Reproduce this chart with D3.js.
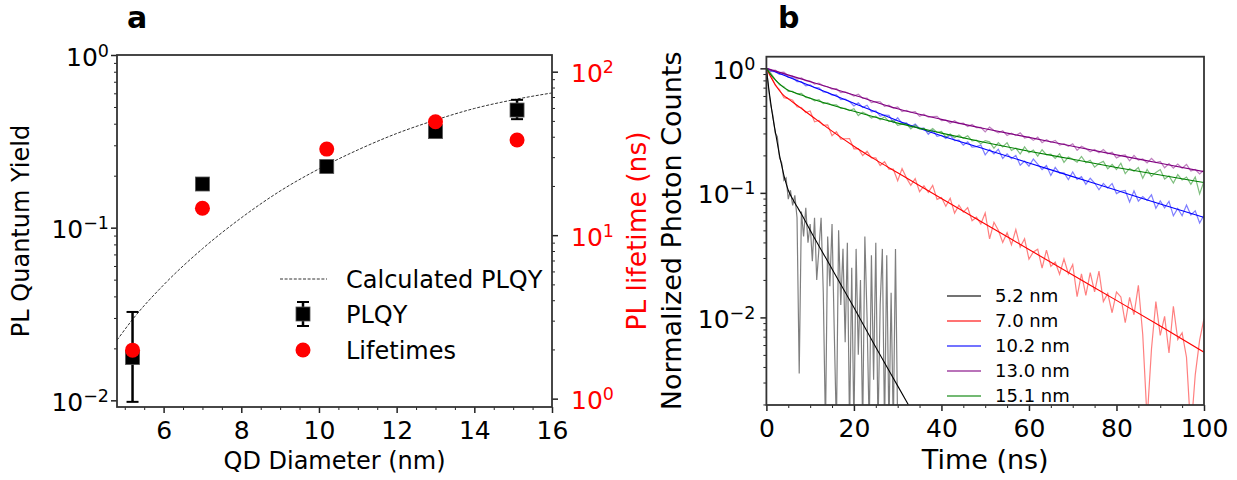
<!DOCTYPE html>
<html>
<head>
<meta charset="utf-8">
<script src="https://cdn.jsdelivr.net/npm/d3@7"></script>
<style>
body { margin: 0; background: #fff; }
</style>
</head>
<body>
<script>
// ---- panel a data ----
var diameter = [5.2, 7.0, 10.2, 13.0, 15.1];
var plqy = [0.0177, 0.179, 0.226, 0.36, 0.48];
var plqyLow = [0.0098, 0.172, 0.218, 0.35, 0.425];
var plqyHigh = [0.0325, 0.186, 0.234, 0.37, 0.55];
var lifetime = [1.98, 14.6, 33.6, 49.4, 38.2];
var calcDiameter = [4.8, 5.2, 6, 7, 8, 9, 10, 11, 12, 13, 14, 15, 16];
var calcPlqy = [0.0223, 0.0294, 0.0466, 0.0755, 0.114, 0.163, 0.219, 0.282, 0.351, 0.420, 0.490, 0.550, 0.603];

// ---- panel b data ----
var sizeLabels = ['5.2 nm', '7.0 nm', '10.2 nm', '13.0 nm', '15.1 nm'];
var sizeColors = ['#000000', '#ff0000', '#0000ff', '#800080', '#008000'];
var timeNs = d3.range(0, 101);          // 1 ns bins
var timeBlack = d3.range(0, 30.5, 0.5); // 0.5 ns bins

var countsBlack = [1.0,.676,.501,.417,.302,.282,.191,.174,.126,.132,.0891,.105,.0794,.0955,.0631,.00355,.0708,.0447,.0759,.0398,
  .0562,.0282,.0631,.0200,.0355,.0631,.0158,.00126,.0447,.0178,.0562,.00794,.00126,.0501,.0126,.0355,.00631,.0398,.00126,.0251,
  .00126,.0355,.00501,.0200,.00126,.0447,.0100,.00126,.0316,.00316,.0398,.00126,.0126,.0355,.00126,.0316,.00126,.0158,.00126,.0355,.00126];

var countsRed = [1.00,.887,.734,.676,.581,.572,.554,.491,.484,.442,
  .454,.372,.381,.349,.351,.288,.310,.270,.272,.273,
  .226,.227,.199,.216,.191,.191,.166,.178,.155,.155,
  .125,.157,.132,.115,.130,.102,.114,.101,.115,.0886,
  .0917,.0781,.0905,.0688,.0797,.0701,.0762,.0598,.0638,.0562,
  .0690,.0427,.0581,.0501,.0400,.0479,.0383,.0507,.0367,.0428,
  .0294,.0335,.0353,.0249,.0347,.0257,.0278,.0222,.0295,.0224,
  .0266,.0147,.0224,.0150,.0229,.0160,.0235,.0134,.0156,.0109,
  .0160,.0146,.00906,.0145,.0105,.0181,.00729,.0015,.00558,.0134,
  .00717,.0102,.00518,.0123,.00664,.00752,.00479,.0012,.00346,.00656,.0098];

var countsBlue = [1.00,.944,.941,.895,.907,.845,.841,.781,.781,.724,
  .737,.699,.698,.646,.641,.610,.612,.562,.567,.542,
  .499,.529,.485,.506,.448,.456,.414,.422,.419,.367,
  .401,.362,.365,.338,.357,.329,.331,.295,.318,.284,
  .290,.273,.291,.263,.265,.242,.257,.233,.235,.242,
  .202,.223,.206,.224,.189,.206,.188,.200,.167,.180,
  .164,.187,.170,.154,.166,.138,.160,.144,.145,.128,
  .147,.128,.135,.117,.131,.120,.106,.119,.109,.119,
  .0987,.103,.1045,.0845,.1039,.0859,.0933,.0870,.0964,.0752,
  .0862,.0758,.0856,.0654,.0749,.0655,.0797,.0664,.0718,.0573,.0664];

var countsPurple = [1.00,.953,.966,.923,.931,.869,.866,.819,.839,.795,
  .791,.747,.762,.724,.712,.681,.686,.639,.647,.625,
  .599,.619,.575,.577,.531,.540,.539,.496,.506,.479,
  .490,.450,.459,.444,.449,.412,.429,.405,.409,.412,
  .380,.384,.362,.379,.360,.363,.341,.355,.334,.336,
  .309,.337,.317,.303,.316,.289,.302,.288,.304,.276,
  .281,.264,.280,.253,.267,.255,.264,.242,.248,.237,
  .248,.220,.237,.227,.214,.223,.210,.223,.206,.212,
  .191,.199,.202,.181,.200,.183,.187,.174,.189,.175,
  .179,.159,.172,.158,.170,.158,.169,.150,.154,.142,.152];

var countsGreen = [1.00,.916,.813,.737,.712,.652,.653,.623,.629,.584,
  .577,.549,.560,.520,.529,.508,.509,.477,.477,.458,
  .474,.418,.445,.426,.399,.412,.386,.409,.374,.384,
  .348,.356,.358,.327,.351,.325,.329,.309,.328,.305,
  .311,.281,.297,.277,.292,.274,.287,.262,.265,.248,
  .263,.257,.228,.253,.234,.253,.219,.229,.205,.234,
  .210,.221,.197,.222,.202,.205,.189,.206,.176,.194,
  .186,.176,.196,.175,.183,.161,.172,.179,.156,.169,
  .154,.173,.143,.157,.149,.160,.131,.154,.136,.146,
  .154,.129,.137,.120,.140,.127,.134,.117,.134,.098,.124];

// fitted decays, [time, value]
var fitBlack = [[0,1],[0.5,.708],[1,.525],[1.5,.398],[2,.316],[2.5,.251],[3,.200],[3.5,.166],[4,.138],[4.5,.119],
  [5,.105],[6,.0891],[7,.0776],[8,.0676],[10,.0501],[15,.0245],[20,.0120],[25,.00575],[30,.00282],[35,.00138]];
var fitRed = [[0,1],[1,.851],[2,.741],[3,.661],[4,.603],[5,.569],[7.5,.490],[10,.422],[15,.313],[20,.237],[25,.184],
  [30,.145],[40,.0902],[50,.0563],[60,.0351],[70,.0219],[80,.0137],[90,.00853],[100,.00525]];
var fitBlue = [[0,1],[10,.724],[20,.525],[30,.380],[40,.288],[50,.224],[60,.174],[70,.135],[80,.105],[90,.0813],[100,.0635]];
var fitPurple = [[0,1],[10,.782],[20,.610],[30,.473],[40,.389],[50,.327],[60,.279],[70,.237],[80,.202],[90,.173],[100,.148]];
var fitGreen = [[0,1],[1,.891],[2,.813],[3,.750],[4,.700],[5,.668],[6,.646],[8,.610],[10,.575],[20,.452],[30,.363],
  [40,.302],[50,.254],[60,.216],[70,.186],[80,.160],[90,.139],[100,.121]];

var FONT = '"DejaVu Sans", Verdana, sans-serif';

var svg = d3.select('body')
  .append('svg')
  .attr('width', 1237)
  .attr('height', 480)
  .style('background', '#fff')
  .attr('font-family', FONT);

function powLabels(g) {
  g.selectAll('.tick text').each(function(d) {
    var e = Math.round(Math.log10(d));
    var t = d3.select(this).text('');
    t.append('tspan').text('10');
    t.append('tspan').attr('dy', -9).attr('font-size', '0.7em')
      .text(e < 0 ? '\u2212' + (-e) : String(e));
  });
}

function styleAxis(g, major) {
  g.select('.domain').remove();
  g.attr('font-family', FONT).attr('font-size', 25);
  g.selectAll('.tick line').attr('stroke', '#222').attr('stroke-width', major ? 1.5 : 1);
  g.selectAll('.tick text').attr('fill', '#000');
}

function minorLog(decades, lo, hi) {
  var out = [];
  decades.forEach(function(p) {
    for (var k = 2; k <= 9; k++) {
      var v = k * p;
      if (v >= lo && v <= hi) out.push(v);
    }
  });
  return out;
}

// ================= panel a =================
var A = {l: 117, r: 552, t: 55, b: 407};
var xA = d3.scaleLinear().domain([4.8, 16]).range([A.l, A.r]);
var yA = d3.scaleLog().domain([0.00915, 1]).range([A.b, A.t]);
var yA2 = d3.scaleLog().domain([0.889, 126.5]).range([A.b, A.t]);

var ga = svg.append('g');

// calculated curve
ga.append('path')
  .datum(calcDiameter.map(function(d, i) { return [d, calcPlqy[i]]; }))
  .attr('fill', 'none')
  .attr('stroke', '#333')
  .attr('stroke-width', 1)
  .attr('stroke-dasharray', '3,1.6')
  .attr('d', d3.line()
    .x(function(d) { return xA(d[0]); })
    .y(function(d) { return yA(d[1]); })
    .curve(d3.curveMonotoneX));

// error bars + squares
diameter.forEach(function(d, i) {
  var x = xA(d);
  ga.append('line').attr('x1', x).attr('x2', x)
    .attr('y1', yA(plqyLow[i])).attr('y2', yA(plqyHigh[i]))
    .attr('stroke', '#000').attr('stroke-width', 2.5);
  [plqyLow[i], plqyHigh[i]].forEach(function(v) {
    ga.append('line').attr('x1', x - 6).attr('x2', x + 6)
      .attr('y1', yA(v)).attr('y2', yA(v))
      .attr('stroke', '#000').attr('stroke-width', 2);
  });
});

ga.selectAll('rect.sq')
  .data(diameter)
  .enter()
  .append('rect')
  .attr('class', 'sq')
  .attr('x', function(d) { return xA(d) - 7; })
  .attr('y', function(d, i) { return yA(plqy[i]) - 7; })
  .attr('width', 14)
  .attr('height', 14)
  .attr('fill', '#000')
  .attr('stroke', '#555')
  .attr('stroke-width', 0.8);

ga.selectAll('circle.life')
  .data(diameter)
  .enter()
  .append('circle')
  .attr('class', 'life')
  .attr('cx', function(d) { return xA(d); })
  .attr('cy', function(d, i) { return yA2(lifetime[i]); })
  .attr('r', 7.5)
  .attr('fill', '#ff0000');

// axes a
var axB = ga.append('g').attr('transform', 'translate(0,' + A.b + ')')
  .call(d3.axisBottom(xA).tickValues([6, 8, 10, 12, 14, 16]).tickSize(6).tickPadding(8));
styleAxis(axB, true);
var axBm = ga.append('g').attr('transform', 'translate(0,' + A.b + ')')
  .call(d3.axisBottom(xA).tickValues(d3.range(5, 16, 0.5).filter(function(v) { return v % 2 !== 0; }))
    .tickSize(3).tickFormat(function() { return ''; }));
styleAxis(axBm, false);

var axL = ga.append('g').attr('transform', 'translate(' + A.l + ',0)')
  .call(d3.axisLeft(yA).tickValues([0.01, 0.1, 1]).tickSize(6).tickPadding(2));
styleAxis(axL, true);
axL.selectAll('.tick text').attr('dy', '0.4em');
powLabels(axL);
var axLm = ga.append('g').attr('transform', 'translate(' + A.l + ',0)')
  .call(d3.axisLeft(yA).tickValues(minorLog([0.01, 0.1], 0.00915, 1)).tickSize(3).tickFormat(function() { return ''; }));
styleAxis(axLm, false);

var axR = ga.append('g').attr('transform', 'translate(' + A.r + ',0)')
  .call(d3.axisRight(yA2).tickValues([1, 10, 100]).tickSize(6).tickPadding(13));
styleAxis(axR, true);
axR.selectAll('.tick text').attr('fill', '#ff0000').attr('dy', '0.4em');
powLabels(axR);
var axRm = ga.append('g').attr('transform', 'translate(' + A.r + ',0)')
  .call(d3.axisRight(yA2).tickValues(minorLog([1, 10], 0.889, 126.5)).tickSize(3).tickFormat(function() { return ''; }));
styleAxis(axRm, false);

ga.append('rect')
  .attr('x', A.l).attr('y', A.t)
  .attr('width', A.r - A.l).attr('height', A.b - A.t)
  .attr('fill', 'none').attr('stroke', '#333').attr('stroke-width', 1.8);

// legend a
ga.append('line').attr('x1', 280).attr('x2', 327).attr('y1', 279).attr('y2', 279)
  .attr('stroke', '#333').attr('stroke-width', 1).attr('stroke-dasharray', '3,1.6');
ga.append('line').attr('x1', 303).attr('x2', 303).attr('y1', 302).attr('y2', 326)
  .attr('stroke', '#000').attr('stroke-width', 2.5);
[302, 326].forEach(function(y) {
  ga.append('line').attr('x1', 297).attr('x2', 309).attr('y1', y).attr('y2', y)
    .attr('stroke', '#000').attr('stroke-width', 2);
});
ga.append('rect').attr('x', 296).attr('y', 307).attr('width', 14).attr('height', 14)
  .attr('fill', '#000').attr('stroke', '#555').attr('stroke-width', 0.8);
ga.append('circle').attr('cx', 303).attr('cy', 350).attr('r', 7.5).attr('fill', '#ff0000');

var legA = [['Calculated PLQY', 279], ['PLQY', 314], ['Lifetimes', 350]];
legA.forEach(function(l) {
  ga.append('text').attr('x', 346).attr('y', l[1]).attr('dy', '0.36em')
    .attr('font-size', 24).attr('fill', '#000').text(l[0]);
});

ga.append('text').attr('x', (A.l + A.r) / 2).attr('y', 469)
  .attr('text-anchor', 'middle').attr('font-size', 24).text('QD Diameter (nm)');
ga.append('text').attr('transform', 'translate(29,' + ((A.t + A.b) / 2) + ') rotate(-90)')
  .attr('text-anchor', 'middle').attr('font-size', 24).text('PL Quantum Yield');
ga.append('text').attr('transform', 'translate(646,231) rotate(-90)')
  .attr('text-anchor', 'middle').attr('font-size', 26.5).attr('fill', '#ff0000').text('PL lifetime (ns)');
ga.append('text').attr('x', 127).attr('y', 28).attr('font-size', 30).attr('font-weight', 'bold').text('a');

// ================= panel b =================
var B = {l: 766.4, r: 1204, t: 56.7, b: 405};
var xB = d3.scaleLinear().domain([0, 100]).range([B.l, B.r]);
var yB = d3.scaleLog().domain([0.00198, 1.24]).range([B.b, B.t]);

var gb = svg.append('g');
svg.append('defs').append('clipPath').attr('id', 'clipB')
  .append('rect').attr('x', B.l).attr('y', B.t).attr('width', B.r - B.l).attr('height', B.b - B.t);

var plotB = gb.append('g').attr('clip-path', 'url(#clipB)');

var lineB = d3.line()
  .x(function(d) { return xB(d[0]); })
  .y(function(d) { return yB(d[1]); });

var traces = [
  {t: timeBlack, v: countsBlack, fit: fitBlack},
  {t: timeNs, v: countsRed, fit: fitRed},
  {t: timeNs, v: countsBlue, fit: fitBlue},
  {t: timeNs, v: countsPurple, fit: fitPurple},
  {t: timeNs, v: countsGreen, fit: fitGreen}
];

traces.forEach(function(tr, i) {
  plotB.append('path')
    .datum(tr.t.map(function(t, j) { return [t, tr.v[j]]; }))
    .attr('fill', 'none')
    .attr('stroke', sizeColors[i])
    .attr('stroke-opacity', 0.5)
    .attr('stroke-width', 1.2)
    .attr('d', lineB);
  plotB.append('path')
    .datum(tr.fit)
    .attr('fill', 'none')
    .attr('stroke', sizeColors[i])
    .attr('stroke-width', 1.1)
    .attr('d', lineB.curve(d3.curveMonotoneX));
  lineB.curve(d3.curveLinear);
});

var bxB = gb.append('g').attr('transform', 'translate(0,' + B.b + ')')
  .call(d3.axisBottom(xB).tickValues([0, 20, 40, 60, 80, 100]).tickSize(6).tickPadding(8));
styleAxis(bxB, true);
var bxBm = gb.append('g').attr('transform', 'translate(0,' + B.b + ')')
  .call(d3.axisBottom(xB).tickValues(d3.range(5, 100, 5).filter(function(v) { return v % 20 !== 0; }))
    .tickSize(3).tickFormat(function() { return ''; }));
styleAxis(bxBm, false);

var byL = gb.append('g').attr('transform', 'translate(' + B.l + ',0)')
  .call(d3.axisLeft(yB).tickValues([0.01, 0.1, 1]).tickSize(6).tickPadding(5));
styleAxis(byL, true);
byL.selectAll('.tick text').attr('dy', '0.4em');
powLabels(byL);
var byLm = gb.append('g').attr('transform', 'translate(' + B.l + ',0)')
  .call(d3.axisLeft(yB).tickValues(minorLog([0.001, 0.01, 0.1], 0.00198, 1.24)).tickSize(3).tickFormat(function() { return ''; }));
styleAxis(byLm, false);

gb.append('rect')
  .attr('x', B.l).attr('y', B.t)
  .attr('width', B.r - B.l).attr('height', B.b - B.t)
  .attr('fill', 'none').attr('stroke', '#333').attr('stroke-width', 1.8);

// legend b
sizeLabels.forEach(function(s, i) {
  var y = 296 + i * 25;
  gb.append('line').attr('x1', 947).attr('x2', 981).attr('y1', y).attr('y2', y)
    .attr('stroke', sizeColors[i]).attr('stroke-opacity', 0.55).attr('stroke-width', 2);
  gb.append('text').attr('x', 995).attr('y', y).attr('dy', '0.36em')
    .attr('font-size', 18).attr('fill', '#000').text(s);
});

gb.append('text').attr('x', (B.l + B.r) / 2).attr('y', 469)
  .attr('text-anchor', 'middle').attr('font-size', 27).text('Time (ns)');
gb.append('text').attr('transform', 'translate(681,' + ((B.t + B.b) / 2) + ') rotate(-90)')
  .attr('text-anchor', 'middle').attr('font-size', 27).text('Normalized Photon Counts');
gb.append('text').attr('x', 778).attr('y', 28).attr('font-size', 30).attr('font-weight', 'bold').text('b');
</script>
</body>
</html>
